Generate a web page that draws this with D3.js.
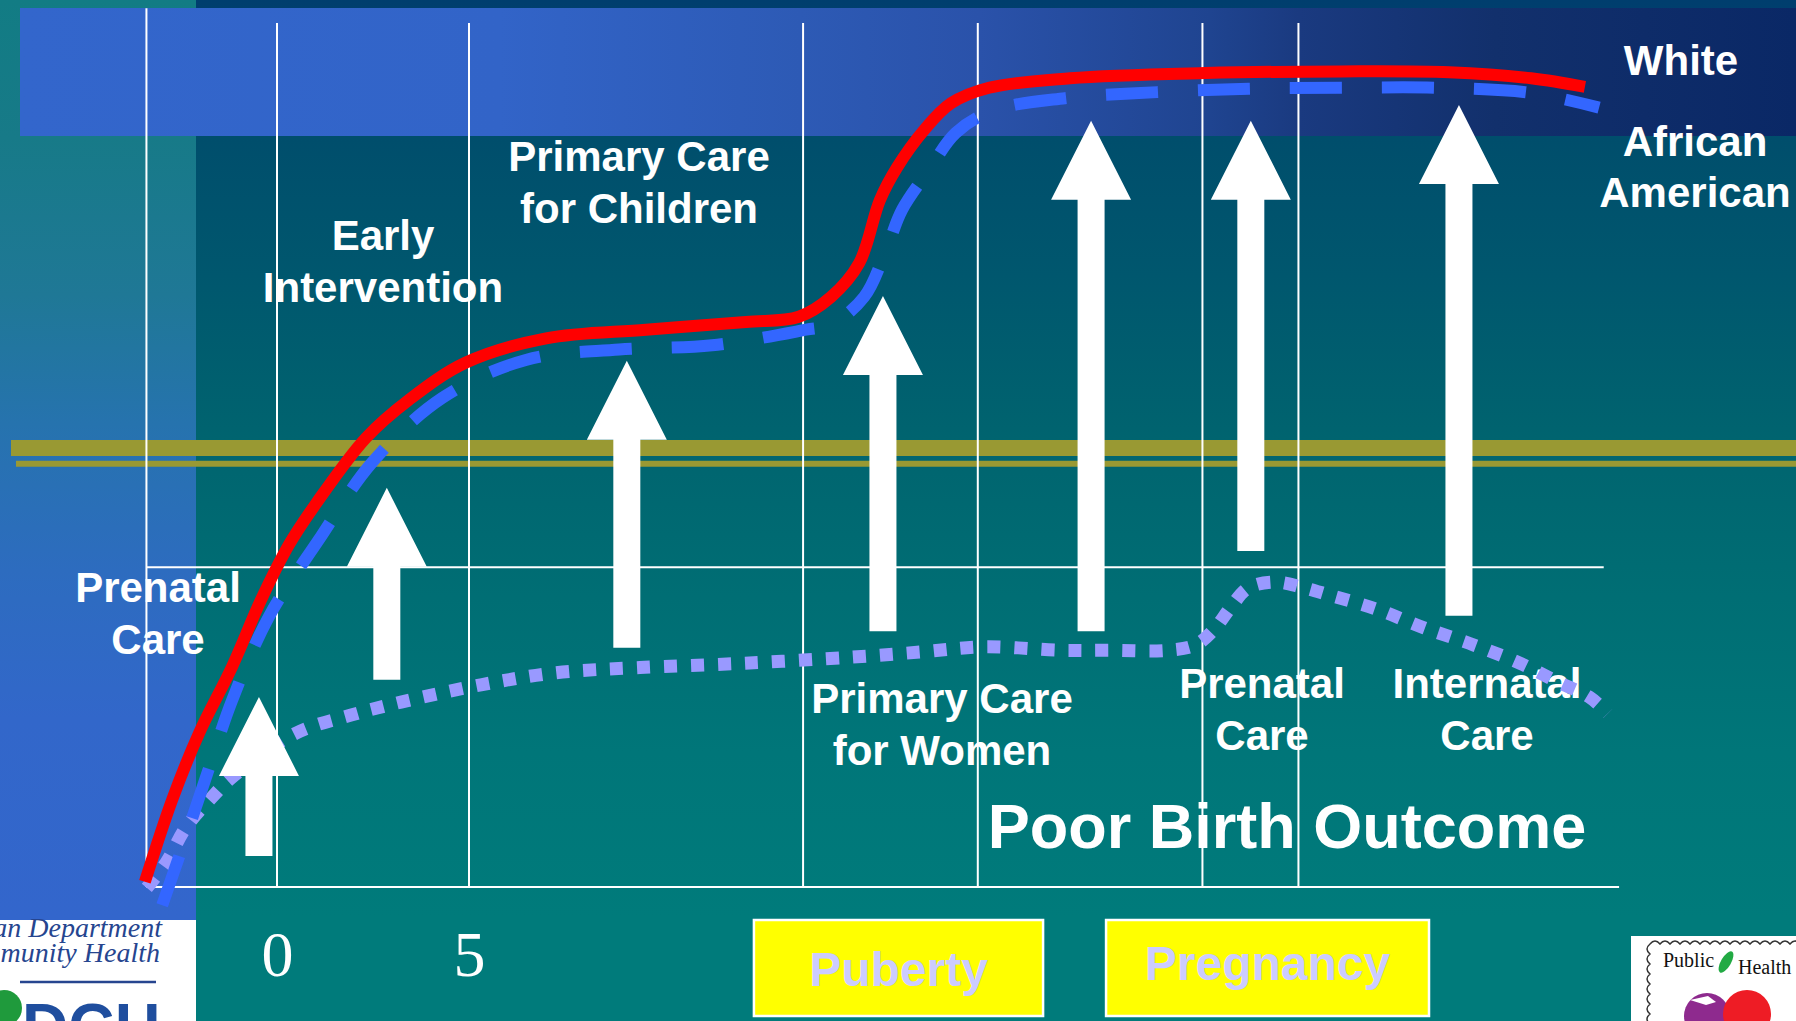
<!DOCTYPE html>
<html>
<head>
<meta charset="utf-8">
<script src="https://cdn.jsdelivr.net/npm/d3@7"></script>
<style>
  body { margin: 0; overflow: hidden; background: #007b7b; }
  svg { display: block; }
  .lbl { font-family: "Liberation Sans", Arial, sans-serif; font-weight: bold; fill: #fff; }
</style>
</head>
<body>
<div id="chart"></div>
<script>
// curves: x = age in years, y = outcome level (0 = axis)
var whiteAge   = [-3.44, -2.73, -2.03, -1.17, -0.42, 0.31, 1.02, 2.32, 3.44, 4.92, 7.01, 9.61, 12.21, 13.59, 14.43, 15.16, 15.70, 16.15, 16.85, 17.55, 18.54, 20.65, 24.17, 27.71, 30.52, 32.66, 34.06];
var whiteLevel = [0.6, 10.1, 17.8, 25.5, 33.2, 39.6, 44.4, 52.0, 56.4, 60.7, 63.5, 64.5, 65.4, 66.0, 68.3, 72.2, 79.5, 83.3, 87.6, 90.7, 92.5, 93.6, 94.2, 94.4, 94.3, 93.6, 92.6];

var blackAge   = [-2.99, -2.55, -1.85, -1.17, -0.21, 1.09, 2.47, 4.30, 6.48, 8.91, 11.33, 13.78, 14.43, 15.29, 15.86, 16.28, 16.98, 17.68, 18.67, 20.52, 22.92, 25.31, 27.71, 30.26, 32.66, 34.43];
var blackLevel = [-2.1, 3.5, 12.7, 21.6, 31.3, 40.2, 49.1, 56.6, 61.0, 62.2, 62.7, 64.5, 65.1, 68.3, 73.7, 78.4, 83.0, 87.3, 89.9, 91.3, 92.0, 92.4, 92.5, 92.5, 91.9, 90.2];

var poorAge   = [-3.39, -2.89, -2.37, -1.69, -1.17, 0.49, 1.93, 3.23, 5.31, 7.27, 9.45, 12.19, 14.95, 16.77, 18.41, 20.42, 21.69, 23.20, 23.91, 24.40, 24.84, 25.29, 25.99, 26.69, 27.40, 28.67, 29.87, 31.17, 32.37, 33.36, 34.17, 34.66];
var poorLevel = [-0.1, 2.8, 6.9, 10.4, 12.7, 17.8, 19.9, 21.4, 23.4, 24.8, 25.4, 25.9, 26.6, 27.2, 27.8, 27.4, 27.4, 27.4, 28.0, 29.8, 32.4, 34.6, 35.3, 34.7, 33.8, 32.1, 30.0, 28.0, 25.9, 23.7, 22.0, 20.1];

// intervention arrows: age, bottom level, tip level
var arrowAge  = [-0.47, 2.86, 9.11, 15.78, 21.20, 25.36, 30.78];
var arrowFrom = [3.6, 24.0, 27.7, 29.6, 29.6, 38.9, 31.4];
var arrowTo   = [22.0, 46.2, 60.9, 68.4, 88.7, 88.7, 90.5];

var gridAges   = [-3.4, 0, 5, 13.7, 18.25, 24.1, 26.6];
var gridLevels = [37];
var bandLevels = [50.8, 49.0];
var tickAges   = [0, 5];
var tickLabels = ["0", "5"];

var stageNames = ["Puberty", "Pregnancy"];
var stageFrom  = [12.42, 21.59];
var stageTo    = [19.95, 30.0];

var careLabels = [["Prenatal", "Care"], ["Early", "Intervention"], ["Primary Care", "for Children"],
                  ["Primary Care", "for Women"], ["Prenatal", "Care"], ["Internatal", "Care"]];
var seriesLabels = [["White"], ["African", "American"]];
var outcomeLabel = "Poor Birth Outcome";

var W = 1796, H = 1021;

var x = d3.scaleLinear().domain([-3.5, 35]).range([277 - 3.5 * 38.4, 277 + 35 * 38.4]);
var y = d3.scaleLinear().domain([0, 100]).range([887, 23]);

var svg = d3.select("#chart").append("svg").attr("width", W).attr("height", H);
var defs = svg.append("defs");

function gradient(id, horiz, a, b, stops) {
  var g = defs.append("linearGradient").attr("id", id).attr("gradientUnits", "userSpaceOnUse");
  if (horiz) g.attr("x1", a).attr("x2", b).attr("y1", 0).attr("y2", 0);
  else g.attr("x1", 0).attr("x2", 0).attr("y1", a).attr("y2", b);
  stops.forEach(function (s) {
    g.append("stop").attr("offset", s[0]).attr("stop-color", s[1]);
  });
}

gradient("mainBg", false, 0, 918, [[0, "#003e6e"], [0.15, "#004e6c"], [0.3, "#00576e"], [0.48, "#00646f"], [0.65, "#006e74"], [0.82, "#007679"], [1, "#007b7b"]]);
gradient("leftBg", false, 0, 920, [[0, "#127c84"], [0.15, "#177a88"], [0.32, "#1f7896"], [0.46, "#2673ae"], [0.62, "#2d6cbf"], [0.78, "#3267ca"], [1, "#3366cc"]]);
gradient("bandBg", true, 20, 1796, [[0, "#3366cc"], [0.27, "#3264c8"], [0.44, "#2d5ab5"], [0.54, "#2a52aa"], [0.67, "#1f4490"], [0.72, "#1a3a80"], [0.83, "#12306c"], [1, "#0a2866"]]);

// background panels
svg.append("rect").attr("x", 0).attr("y", 0).attr("width", W).attr("height", H).attr("fill", "#007b7b");
svg.append("rect").attr("x", 196).attr("y", 0).attr("width", W - 196).attr("height", 920).attr("fill", "url(#mainBg)");
svg.append("rect").attr("x", 0).attr("y", 0).attr("width", 196).attr("height", 920).attr("fill", "url(#leftBg)");
svg.append("rect").attr("x", 20).attr("y", 8).attr("width", W - 20).attr("height", 128).attr("fill", "url(#bandBg)");

// olive threshold bands
svg.selectAll(".band").data(bandLevels).enter().append("line")
  .attr("x1", function (d, i) { return i === 0 ? 11 : 16; })
  .attr("x2", W)
  .attr("y1", function (d) { return y(d); })
  .attr("y2", function (d) { return y(d); })
  .attr("stroke", "#999933")
  .attr("stroke-width", function (d, i) { return i === 0 ? 16 : 6; });

// labels (drawn under the grid, as on the slide)
var careSpots = [[158, 602], [383, 250], [639, 171], [942, 713], [1262, 698], [1487, 698]];
var labelG = svg.append("g");
careLabels.forEach(function (lines, i) {
  var t = labelG.append("text").attr("class", "lbl").attr("text-anchor", "middle")
    .attr("font-size", 42).attr("x", careSpots[i][0]).attr("y", careSpots[i][1]);
  lines.forEach(function (s, j) {
    t.append("tspan").attr("x", careSpots[i][0]).attr("dy", j === 0 ? 0 : 52).text(s);
  });
});
var seriesSpots = [[1681, 75], [1695, 156]];
seriesLabels.forEach(function (lines, i) {
  var t = labelG.append("text").attr("class", "lbl").attr("text-anchor", "middle")
    .attr("font-size", 42).attr("x", seriesSpots[i][0]).attr("y", seriesSpots[i][1]);
  lines.forEach(function (s, j) {
    t.append("tspan").attr("x", seriesSpots[i][0]).attr("dy", j === 0 ? 0 : 51).text(s);
  });
});
labelG.append("text").attr("class", "lbl").attr("text-anchor", "middle")
  .attr("font-size", 63).attr("x", 1287).attr("y", 848).text(outcomeLabel);

// grid
var grid = svg.append("g").attr("stroke", "#fff").attr("stroke-width", 2);
grid.selectAll(".vg").data(gridAges).enter().append("line")
  .attr("x1", function (d) { return x(d); })
  .attr("x2", function (d) { return x(d); })
  .attr("y1", function (d, i) { return i === 0 ? y(101.7) : y(100); })
  .attr("y2", y(0));
grid.selectAll(".hg").data(gridLevels).enter().append("line")
  .attr("x1", x(-3.4)).attr("x2", x(34.55))
  .attr("y1", function (d) { return y(d); })
  .attr("y2", function (d) { return y(d); });
grid.append("line").attr("x1", x(-3.4)).attr("x2", x(34.95)).attr("y1", y(0)).attr("y2", y(0));

// age ticks
var axis = svg.append("g").attr("transform", "translate(0," + y(0) + ")")
  .call(d3.axisBottom(x).tickValues(tickAges).tickSize(0)
    .tickFormat(function (d, i) { return tickLabels[i]; }));
axis.select(".domain").remove();
axis.selectAll("text")
  .attr("y", 89).attr("dy", 0)
  .attr("fill", "#fff")
  .attr("font-family", "'Liberation Serif', 'Times New Roman', serif")
  .attr("font-size", 64);

// curves
var line = d3.line()
  .x(function (d) { return x(d[0]); })
  .y(function (d) { return y(d[1]); })
  .curve(d3.curveCatmullRom.alpha(0.5));

function pairs(a, b) { return a.map(function (v, i) { return [v, b[i]]; }); }

svg.append("path").datum(pairs(poorAge, poorLevel)).attr("d", line)
  .attr("fill", "none").attr("stroke", "#9999ff").attr("stroke-width", 13)
  .attr("stroke-dasharray", "13,14");
svg.append("path").datum(pairs(whiteAge, whiteLevel)).attr("d", line)
  .attr("fill", "none").attr("stroke", "#ff0000").attr("stroke-width", 12);
svg.append("path").datum(pairs(blackAge, blackLevel)).attr("d", line)
  .attr("fill", "none").attr("stroke", "#3366ff").attr("stroke-width", 12)
  .attr("stroke-dasharray", "52,40");

// arrows
svg.selectAll(".arrow").data(arrowAge).enter().append("path")
  .attr("fill", "#fff")
  .attr("d", function (d, i) {
    var cx = x(d), tip = y(arrowTo[i]), bot = y(arrowFrom[i]), hb = tip + 79;
    return "M" + (cx - 13.5) + "," + bot + "L" + (cx - 13.5) + "," + hb + "L" + (cx - 40) + "," + hb +
      "L" + cx + "," + tip + "L" + (cx + 40) + "," + hb + "L" + (cx + 13.5) + "," + hb +
      "L" + (cx + 13.5) + "," + bot + "Z";
  });

// stage boxes
var stages = svg.selectAll(".stage").data(stageNames).enter().append("g");
stages.append("rect")
  .attr("x", function (d, i) { return x(stageFrom[i]); })
  .attr("width", function (d, i) { return x(stageTo[i]) - x(stageFrom[i]); })
  .attr("y", 920).attr("height", 96)
  .attr("fill", "#ffff00").attr("stroke", "#fff").attr("stroke-width", 2.5);
stages.append("text")
  .attr("class", "lbl")
  .attr("x", function (d, i) { return (x(stageFrom[i]) + x(stageTo[i])) / 2; })
  .attr("y", function (d, i) { return i === 0 ? 986 : 980; })
  .attr("text-anchor", "middle").attr("font-size", 48)
  .style("fill", "#ccccff")
  .text(function (d) { return d; });

// left logo
var lg = svg.append("g");
lg.append("rect").attr("x", 0).attr("y", 920).attr("width", 196).attr("height", 101).attr("fill", "#fff");
lg.append("text").attr("x", 162).attr("y", 937).attr("text-anchor", "end")
  .attr("font-family", "'Liberation Serif', serif").attr("font-style", "italic")
  .attr("font-size", 28).attr("fill", "#26458f").text("Michigan Department");
lg.append("text").attr("x", 160).attr("y", 962).attr("text-anchor", "end")
  .attr("font-family", "'Liberation Serif', serif").attr("font-style", "italic")
  .attr("font-size", 28).attr("fill", "#26458f").text("of Community Health");
lg.append("line").attr("x1", 20).attr("x2", 156).attr("y1", 982).attr("y2", 982)
  .attr("stroke", "#26458f").attr("stroke-width", 2.5);
lg.append("circle").attr("cx", 4).attr("cy", 1008).attr("r", 18).attr("fill", "#1f9a3c");
lg.append("text").attr("x", 22).attr("y", 1049)
  .attr("font-family", "'Liberation Sans', Arial, sans-serif").attr("font-weight", "bold")
  .attr("font-size", 64).attr("fill", "#1f4e9e").text("DCH");

// right logo
var rg = svg.append("g");
rg.append("rect").attr("x", 1631).attr("y", 936).attr("width", 165).attr("height", 85).attr("fill", "#fff");
var wave = "M1650,944";
for (var wx = 1650; wx < 1796; wx += 10) wave += "q5,-6 10,0";
wave += "M1650,944";
for (var wy = 944; wy < 1021; wy += 10) wave += "q-6,5 0,10";
rg.append("path").attr("d", wave).attr("fill", "none").attr("stroke", "#333").attr("stroke-width", 1.5);
rg.append("text").attr("x", 1663).attr("y", 967)
  .attr("font-family", "'Liberation Serif', serif").attr("font-size", 20).attr("fill", "#111").text("Public");
rg.append("text").attr("x", 1738).attr("y", 974)
  .attr("font-family", "'Liberation Serif', serif").attr("font-size", 20).attr("fill", "#111").text("Health");
rg.append("ellipse").attr("cx", 1726).attr("cy", 962).attr("rx", 5).attr("ry", 12)
  .attr("transform", "rotate(30,1726,962)").attr("fill", "#22aa44");
rg.append("circle").attr("cx", 1707).attr("cy", 1016).attr("r", 23).attr("fill", "#8e2a8e");
rg.append("circle").attr("cx", 1747).attr("cy", 1014).attr("r", 24).attr("fill", "#ee1c25");
rg.append("path").attr("d", "M1690,1000l18,-4l8,6l-10,3z").attr("fill", "#fff");
</script>
</body>
</html>
